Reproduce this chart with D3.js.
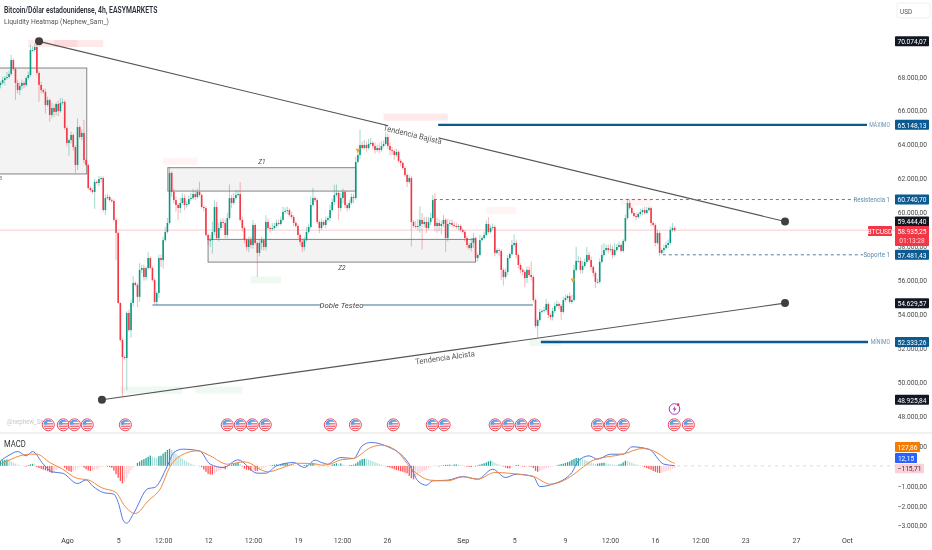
<!DOCTYPE html>
<html><head><meta charset="utf-8">
<script src="https://cdn.jsdelivr.net/npm/d3@7"></script>
<style>html,body{margin:0;padding:0;background:#fff}svg{display:block;font-family:Roboto,sans-serif;filter:blur(.3px)}</style>
</head><body><svg id="c" width="932" height="550"></svg>
<script>
// Prices in thousands of USD, one entry per 4h bar
const closes=[67.62,67.79,67.91,67.97,68.15,68.97,68.44,67.62,67.20,67.44,
67.62,67.50,67.91,68.09,69.56,69.56,69.74,68.21,67.50,67.20,
67.09,66.32,66.61,65.73,66.14,65.91,66.38,65.96,66.44,66.50,
64.96,64.08,64.25,64.55,63.84,62.78,65.02,64.43,64.67,63.07,
62.78,61.42,61.30,61.19,61.78,61.72,61.95,62.01,60.12,60.83,
60.89,60.71,60.65,59.54,58.77,54.64,52.45,51.45,51.39,54.05,
53.04,54.64,55.82,55.70,55.00,56.59,56.70,56.17,56.70,57.29,
56.70,55.99,54.70,55.23,57.29,57.17,58.35,58.83,59.36,62.31,
61.19,60.71,60.42,60.24,60.54,60.83,60.42,60.48,60.77,60.83,
61.07,60.89,61.19,61.01,60.30,60.24,58.65,58.35,58.35,58.83,
60.30,58.47,59.06,59.42,59.36,58.65,59.65,60.83,60.54,60.83,
61.01,61.07,59.54,59.06,58.35,57.94,58.35,58.06,59.24,58.18,
57.59,58.18,58.35,57.94,59.42,59.06,59.00,59.06,59.18,59.36,
59.30,59.54,60.01,60.07,60.12,59.83,59.71,59.36,59.18,58.65,
58.24,57.94,58.35,58.83,59.12,60.42,60.83,60.71,59.42,59.06,
59.42,59.24,59.54,59.65,60.12,60.60,61.01,61.13,60.24,60.83,
61.19,60.42,60.24,60.54,60.89,60.83,62.96,63.37,63.96,63.78,
63.96,63.78,64.02,64.08,63.90,63.66,63.78,63.66,63.90,64.02,
64.43,63.90,63.66,63.60,63.37,63.55,63.02,62.90,62.60,62.19,
61.78,62.01,59.42,59.18,59.12,59.18,59.54,59.30,59.42,59.06,
59.42,59.65,60.71,59.18,59.36,59.18,59.30,59.54,58.47,59.30,
59.36,59.24,59.18,59.12,59.18,58.94,58.83,58.47,58.06,57.88,
58.18,58.47,57.29,57.47,58.35,58.47,58.65,59.30,58.83,59.06,
59.12,57.59,57.76,57.71,56.59,56.17,56.47,57.29,57.53,58.06,
58.18,57.47,56.88,56.59,56.47,56.11,56.59,56.29,56.17,54.81,
53.28,53.63,54.11,54.17,54.22,54.58,53.93,53.81,54.17,54.46,
54.58,54.46,54.11,54.81,54.93,55.05,54.70,54.81,56.59,57.12,
57.12,56.59,56.82,57.06,57.47,57.17,56.76,56.41,55.88,55.88,
57.06,57.47,57.76,57.88,57.76,57.82,57.47,57.76,57.94,58.06,
57.71,58.30,59.65,60.54,60.24,59.95,59.77,59.71,59.89,60.01,
60.12,59.95,60.12,60.24,59.36,59.24,58.18,58.77,57.59,57.76,
57.88,58.06,58.18,58.94,59.06,58.935];
const wickUp=[.1,.2,.1,.3,.2,.3,.1,.1,.2,.2,.2,.1,.1,.2,.3,.2,.2,.18,.1,.2,
.1,.2,.2,.1,.3,.2,.1,.2,.3,.2,.1,.1,.1,.2,.1,.1,.5,.1,.2,.77,
.1,.1,.1,.1,.2,.1,.2,.1,.1,.2,.2,.1,.1,.1,.1,.05,.05,.1,.1,.1,
.2,.2,.4,.1,.1,.4,.2,.2,.1,.35,.1,.1,.1,.1,.2,.2,.2,.3,.3,.35,
.1,.2,.2,.1,.3,.3,.2,.2,.2,.3,.3,.2,.2,.6,.1,.1,.1,.1,.3,.6,
.4,.3,.3,.2,.2,.2,.3,.8,.2,.3,.3,.2,.7,.2,.1,.1,.2,.2,.3,.1,
.1,.2,.2,.1,.4,.2,.1,.3,.2,.2,.2,.2,.3,.2,.2,.1,.2,.1,.1,.1,
.1,.2,.2,.3,.2,.5,.6,.1,.1,.1,.2,.1,.2,.1,.3,.2,.6,.5,.1,.3,
.2,.1,.1,.2,.2,.2,.3,.3,.9,.2,.3,.2,.3,.3,.1,.2,.2,.3,.3,.2,
.3,.7,.2,.2,.1,.2,.1,.1,.1,.1,.1,.2,.1,.1,.3,.4,.8,.4,.3,.3,
.3,.3,.3,.4,.3,.2,.2,.3,.1,.3,.2,.2,.2,.2,.1,.1,.1,.1,.1,.1,
.3,.3,.1,.1,.3,.1,.2,.2,.4,.2,.2,.1,.1,.1,.1,.1,.2,.2,.1,.3,
.5,.2,.1,.1,.1,.1,.2,.2,.8,.1,.1,.1,.2,.1,.2,.3,.1,.1,.2,.2,
.2,.1,.1,.2,.2,.1,.2,.3,.3,.83,.3,.2,.3,.2,.47,.2,.2,.1,.1,.2,
.2,.6,.4,.2,.2,.3,.2,.4,.2,.2,.1,.1,.2,.2,.2,.1,.1,.2,.1,.2,
.1,.2,.2,.1,.1,.1,.1,.2,.1,.1,.2,.2,.2,.2,.3,.1];
const wickDown=[.2,.1,.3,.1,.1,.1,.1,1.0,.2,.3,.2,.2,.1,.1,.1,.1,.1,.1,1.0,.2,
.1,.5,.1,.4,.2,.3,.2,.3,.1,.1,.1,.2,.75,.2,.2,.5,.3,.1,.2,.2,
.1,.1,.1,.1,1.0,.1,.2,.2,.1,.3,.1,.1,.1,.1,1.6,.05,.1,2.36,.1,1.9,
.1,.45,.2,.1,.6,.3,.2,.2,.2,.1,.1,.1,.1,.2,.3,.4,.5,.1,.1,.1,
.3,.2,.4,.7,.3,.1,.3,.2,.1,.1,.1,.2,.1,.1,.1,.2,.1,.3,.4,.8,
.2,.1,.2,.1,.3,.2,.2,.1,.3,.1,.1,.1,.1,.2,.2,.2,.3,.2,.2,.1,
1.42,.2,.4,.2,.2,.1,.2,.1,.1,.1,.1,.1,.1,.1,.2,.1,.1,.2,.1,.2,
.2,.3,.2,.1,.1,.1,.1,.1,.1,.3,.1,.1,.2,.1,.2,.1,.2,.1,.7,.2,
.3,.2,.2,.1,.1,.3,.1,.1,.2,.1,.1,.2,.1,.1,.2,.2,.1,.2,.1,.1,
.1,.2,.3,.2,.3,.1,.1,.2,.1,.1,.3,.1,1.45,.1,.1,.2,.4,1.5,.2,.3,
.1,.2,.1,.3,.4,.3,.5,.2,.83,.2,.1,.1,.1,.1,.2,.1,.1,.2,.2,.1,
.2,.3,.24,.2,.1,.1,.1,.1,.1,.1,.1,.2,.1,.3,.6,.5,.1,.2,.1,.1,
.1,.2,.2,.2,.2,.55,.3,.1,.2,.1,.1,.7,.1,.1,.1,.1,.2,.2,.2,.1,
.1,.2,.47,.1,.1,.1,.1,.1,.1,.1,.1,.2,.2,.1,.1,.1,.2,.2,.35,.1,
.1,.1,.1,.1,.2,.1,.2,.1,.1,.1,.1,.1,.1,.1,.1,.1,.1,.2,.1,.1,
.2,.1,.1,.1,.2,.1,.2,.1,.2,.1,.2,.1,.2,.1,.1,.1];
const firstOpen=67.5;

// MACD histogram in USD, one per bar
const hist=[250,280,300,320,300,230,170,110,60,30,10,-20,-40,40,80,100,70,-60,-110,-150,
-190,-230,-270,-320,-360,-300,-200,-100,-60,-40,-90,-200,-260,-300,-270,-220,-120,-60,-40,-90,
-170,-230,-260,-240,-200,-170,-130,-60,-40,-30,-40,-60,-100,-240,-420,-600,-760,-880,-800,-620,
-400,-220,-90,-10,150,220,290,340,400,460,520,470,430,400,490,510,620,700,800,860,
800,700,620,520,440,360,280,210,150,100,60,30,10,-20,-60,-190,-300,-400,-440,-440,
-360,-310,-250,-200,-150,-170,-120,30,60,100,130,150,90,-30,-140,-190,-220,-250,-230,-250,
-260,-200,-160,-110,-60,-20,20,40,60,80,60,90,110,130,130,100,60,50,30,20,
-20,10,40,60,40,90,150,130,20,-20,-10,-20,-10,-30,-20,60,100,130,110,120,
60,40,30,30,40,60,120,200,280,340,360,350,310,270,230,180,140,100,60,30,
-20,-60,-90,-130,-170,-210,-240,-270,-300,-340,-380,-500,-620,-680,-560,-470,-380,-300,-240,-180,
-120,-70,-30,10,-10,-30,20,30,50,50,60,50,70,70,60,40,30,-20,-40,-50,
-60,-30,-40,30,60,100,130,170,230,260,220,160,110,60,30,-30,-90,-130,-130,-60,
-10,40,50,-10,-30,-40,-20,-30,-40,-110,-250,-300,-260,-210,-160,-120,-90,-60,-30,-10,
30,60,90,110,150,190,220,300,350,400,400,370,330,290,250,210,170,130,100,110,
130,150,160,130,110,80,70,60,50,70,110,180,260,250,200,160,110,70,50,20,
-20,-60,-110,-160,-200,-260,-300,-340,-360,-340,-300,-280,-240,-190,-150,-115.71];

// MACD and signal lines, read at the bars listed
const macdBars=[0,4,8,12,15,20,24,29,36,40,43,48,53,55,57.5,59,62,69,72,78,81,85,93,98,104,111,120,124,129,137,142,147,150,153,156,159,165,169,173,180,191,195,199,202,209,216,223,230,236,241,249,252,258,267,270,275,279,285,291,295,303,310,315];
const macdVals=[252,538,722,504,722,84,-302,-370,-890,-706,-1008,-1344,-1428,-1848,-2772,-2890,-2436,-1142,-1092,0,672,840,756,84,-84,302,-370,-370,0,168,-84,286,168,84,286,420,370,1008,1176,1008,84,-756,-974,-756,-722,-538,-672,-168,-588,-420,-538,-1042,-924,-336,252,504,336,588,588,958,840,84,12.15];
const signalBars=[0,5,9,14,17,23,29,36,41,47,54,58,63,69,75,79,84,92,98,106,114,125,132,139,148,150,154,159,165,173,178,185,193,201,209,216,223,231,243,249,257,265,271,277,291,300,305,314,315];
const signalVals=[84,336,504,588,588,168,-168,-638,-706,-1092,-1344,-2016,-2402,-1764,-1092,-84,504,756,504,84,202,-302,-84,134,84,34,84,302,370,924,1042,756,-252,-722,-756,-554,-672,-336,-437,-538,-924,-638,-168,286,588,874,756,168,127.86];

const priceTicks=[68,66,64,62,60,58,56,54,52,50,48];
const macdTicks=[1000,-1000,-2000,-3000];
const timeTickBars=[31.1,55,76,97,118,139,159.6,180.6,216,240,263.8,284.8,305.8,327,348,371.7,395.5];
const timeTickLabels=["Ago","5","12:00","12","12:00","19","12:00","26","Sep","5","9","12:00","16","12:00","23","27","Oct"];
const eventBars=[22.2,29.2,34.4,40.4,58.2,105.8,111.9,117.5,123.6,154,165.7,183.4,201.6,207.2,231,237,243.2,249.3,278.8,284.8,290.9,314.7,321.3];

// Zones: first bar, last bar, top price, bottom price
const zoneStart=[-3,78.2,97];
const zoneEnd=[40.3,166,222];
const zoneTop=[68.5,62.62,58.39];
const zoneBottom=[62.25,61.24,57.05];
// Liquidity heat patches
const heatStart=[13,25,76,110,179,227,290,117,56,70,91,247];
const heatEnd=[48,36,92,119,209,241,304,131,85,85,113,262];
const heatPrice=[69.95,69.95,63.0,62.2,65.6,60.1,60.6,56.0,49.5,49.5,49.5,52.3];
const heatKind=["p","pd","f","f","p","f","f","g","g","g","g","g"];

const fmt=d3.formatLocale({decimal:",",thousands:".",grouping:[3],currency:["",""],minus:"\u2212"}).format(",.2f");

const svg=d3.select("#c");
const x=d3.scaleLinear().domain([0,315]).range([0.5,674.6]);
const y=d3.scaleLinear().domain([48,68]).range([415.5,76.5]);
const m=d3.scaleLinear().domain([-3000,1000]).range([525.4,446]);
const GREEN="#089981",RED="#f23645",BLUE="#0b5a92";
const xEnd=895;
const condense=(sel,f)=>sel.each(function(){this.setAttribute("textLength",this.getComputedTextLength()*f);this.setAttribute("lengthAdjust","spacingAndGlyphs");});

svg.append("defs").append("clipPath").attr("id","pane").append("rect").attr("x",0).attr("y",0).attr("width",xEnd).attr("height",433);
const g=svg.append("g").attr("clip-path","url(#pane)");

// heat patches
const heatColors={p:"#fee9eb",pd:"#fcdadd",f:"#fff3f4",g:"#eff8f1"};
g.selectAll("rect.h").data(heatStart).join("rect").attr("class","h")
 .attr("x",(d)=>x(d)).attr("width",(d,i)=>x(heatEnd[i])-x(d))
 .attr("y",(d,i)=>y(heatPrice[i])-3.5).attr("height",7)
 .attr("fill",(d,i)=>heatColors[heatKind[i]]);

// zones
g.selectAll("rect.z").data(zoneStart).join("rect").attr("class","z")
 .attr("x",d=>x(d)).attr("width",(d,i)=>x(zoneEnd[i])-x(d))
 .attr("y",(d,i)=>y(zoneTop[i])).attr("height",(d,i)=>y(zoneBottom[i])-y(zoneTop[i]))
 .attr("fill","#f3f3f3").attr("stroke","#858585").attr("stroke-width",1);

// last price line
g.append("line").attr("x1",0).attr("x2",xEnd).attr("y1",y(58.935)).attr("y2",y(58.935)).attr("stroke","#f9c4ca").attr("stroke-width",.9);

// candles
const opens=closes.map((c,i)=>i?closes[i-1]:firstOpen);
const col=i=>closes[i]>=opens[i]?GREEN:RED;
g.selectAll("line.w").data(closes).join("line").attr("class","w")
 .attr("x1",(d,i)=>x(i)).attr("x2",(d,i)=>x(i))
 .attr("y1",(d,i)=>y(Math.max(d,opens[i])+wickUp[i]))
 .attr("y2",(d,i)=>y(Math.min(d,opens[i])-wickDown[i]))
 .attr("stroke",(d,i)=>col(i)).attr("stroke-opacity",.42).attr("stroke-width",.9);
g.selectAll("rect.b").data(closes).join("rect").attr("class","b")
 .attr("x",(d,i)=>x(i)-.8).attr("width",1.6)
 .attr("y",(d,i)=>y(Math.max(d,opens[i])))
 .attr("height",(d,i)=>Math.max(.8,Math.abs(y(d)-y(opens[i]))))
 .attr("fill",(d,i)=>col(i));

// orange markers
g.selectAll("path.mk").data([167,267.5]).join("path").attr("class","mk")
 .attr("d",d3.symbol(d3.symbolTriangle,10)).attr("fill","#f5a623")
 .attr("transform",(d,i)=>`translate(${x(d)},${y([63.65,56][i])}) rotate(180)`);

// trend lines
const trendBars=[[18,366.6],[47.4,366.6]],trendPrices=[[70.074,59.444],[48.926,54.63]];
trendBars.forEach((b,i)=>{
 g.append("line").attr("x1",x(b[0])).attr("x2",x(b[1])).attr("y1",y(trendPrices[i][0])).attr("y2",y(trendPrices[i][1])).attr("stroke","#555").attr("stroke-width",1.1);
 g.selectAll(null).data(b).join("circle").attr("cx",d=>x(d)).attr("cy",(d,k)=>y(trendPrices[i][k])).attr("r",4).attr("fill","#3f3f3f");
});
const rotLabel=(t,cx,cy,a,bg)=>{
 const s=g.append("g").attr("transform",`translate(${cx},${cy}) rotate(${a})`);
 if(bg)s.append("rect").attr("x",-26).attr("y",-5).attr("width",52).attr("height",10).attr("fill","#fff");
 s.append("text").attr("text-anchor","middle").attr("dy",".35em").attr("font-size",8).attr("fill","#555").text(t).call(condense,.95);
};
rotLabel("Tendencia Bajista",412.5,134.5,13.5,true);
rotLabel("Tendencia Alcista",445,357.5,-8,false);

// level lines
const thick=[[204.5,65.148,867],[252.5,52.333,868]];
thick.forEach(t=>g.append("line").attr("x1",x(t[0])).attr("x2",t[2]).attr("y1",y(t[1])).attr("y2",y(t[1])).attr("stroke",BLUE).attr("stroke-width",2.4));
[[202.5,60.7407,855],[309.5,57.4814,863]].forEach(t=>g.append("line").attr("x1",x(t[0])).attr("x2",t[2]).attr("y1",y(t[1])).attr("y2",y(t[1])).attr("stroke","#3d7396").attr("stroke-width",.9).attr("stroke-dasharray","3 3"));
g.append("line").attr("x1",x(71)).attr("x2",x(248.8)).attr("y1",y(54.52)).attr("y2",y(54.52)).attr("stroke","#3f7394").attr("stroke-width",1);
g.append("rect").attr("x",321).attr("y",y(54.52)-5).attr("width",42).attr("height",10).attr("fill","#fff");
const small=(t,xx,yy,anchor,fill,fs,f)=>svg.append("text").attr("x",xx).attr("y",yy).attr("dy",".35em").attr("text-anchor",anchor).attr("font-size",fs).attr("fill",fill).text(t).call(condense,f||.9);
small("Doble Testeo",341.5,y(54.52),"middle","#444",8,.95).attr("font-style","italic");
small("Z1",262,161.5,"middle","#444",7,.9).attr("font-style","italic");
small("Z2",342,268,"middle","#444",7,.9).attr("font-style","italic");
small("Z3",2,178,"end","#666",6,.9);
small("M\u00c1XIMO",890,y(65.148),"end","#6a93b0",6.5,.8);
small("M\u00cdNIMO",890,y(52.333),"end","#6a93b0",6.5,.8);
small("Resistencia 1",890,y(60.7407),"end","#5c8aa8",7.5,.82);
small("Soporte 1",890,y(57.4814),"end","#5c8aa8",7.5,.82);

// watermark
small("@nephew_Sam_",7,421.5,"start","#c9c9c9",7.5,.82);

// event icons
const ev=svg.append("defs");
ev.append("clipPath").attr("id","flag").append("circle").attr("r",5);
const icons=svg.selectAll("g.e").data(eventBars).join("g").attr("class","e").attr("transform",d=>`translate(${x(d)+.3},424.8)`);
icons.append("circle").attr("r",6).attr("fill","#fff").attr("stroke","#ef4655").attr("stroke-width",1);
const inner=icons.append("g").attr("clip-path","url(#flag)");
inner.append("rect").attr("x",-5).attr("y",-5).attr("width",10).attr("height",5).attr("fill","#5f9ee6");
inner.append("rect").attr("x",-1).attr("y",-3).attr("width",6).attr("height",1.2).attr("fill","#fff");
inner.append("rect").attr("x",-1).attr("y",-1).attr("width",6).attr("height",1.2).attr("fill","#f7b9bd");
inner.append("rect").attr("x",-5).attr("y",.8).attr("width",10).attr("height",1.3).attr("fill","#f0656f");
inner.append("rect").attr("x",-5).attr("y",3).attr("width",10).attr("height",1.3).attr("fill","#f0656f");
// flash icon
const fl=svg.append("g").attr("transform","translate(674.5,409)");
fl.append("circle").attr("r",5.3).attr("fill","#fff").attr("stroke","#9c27b0").attr("stroke-width",.9);
fl.append("path").attr("d","M1,-3.4L-1.8,.5H0L-1,3.4L1.9,-.6H0Z").attr("fill","#9c27b0");
fl.append("circle").attr("cx",3.6).attr("cy",-4.3).attr("r",1.4).attr("fill","#f23645");

// separator
svg.append("line").attr("x1",0).attr("x2",932).attr("y1",433).attr("y2",433).attr("stroke","#e4e4e4");

// MACD pane
const histColor=(v,i)=>{const p=i?hist[i-1]:v;return v>=0?(v>=p?"#26a69a":"#b2dfdb"):(v<=p?"#ff5252":"#ffcdd2");};
svg.selectAll("rect.mh").data(hist).join("rect").attr("class","mh")
 .attr("x",(d,i)=>x(i)-.65).attr("width",1.3)
 .attr("y",d=>Math.min(m(d),m(0))).attr("height",d=>Math.abs(m(d)-m(0)))
 .attr("fill",histColor);
const curve=(bars,vals)=>d3.line().x((d,i)=>x(bars[i])).y(d=>m(d)).curve(d3.curveMonotoneX)(vals);
svg.append("path").attr("d",curve(macdBars,macdVals)).attr("fill","none").attr("stroke","#4f78e8").attr("stroke-width",1);
svg.append("path").attr("d",curve(signalBars,signalVals)).attr("fill","none").attr("stroke","#f0883e").attr("stroke-width",1);
svg.append("line").attr("x1",677).attr("x2",xEnd).attr("y1",m(0)).attr("y2",m(0)).attr("stroke","#cfcfcf").attr("stroke-width",.8).attr("stroke-dasharray","3 4");
small("MACD",4,444.5,"start","#333",8.5,.9);

// axes
const yAxis=svg.append("g").attr("transform","translate(927,0)").call(d3.axisRight(y).tickValues(priceTicks).tickSize(0).tickPadding(0).tickFormat(d=>fmt(d*1000)));
const mAxis=svg.append("g").attr("transform","translate(927,0)").call(d3.axisRight(m).tickValues(macdTicks).tickSize(0).tickPadding(0).tickFormat(fmt));
const tAxis=svg.append("g").attr("transform","translate(0,537.5)").call(d3.axisBottom(x).tickValues(timeTickBars).tickSize(0).tickPadding(0).tickFormat((d,i)=>timeTickLabels[i]));
[yAxis,mAxis,tAxis].forEach(a=>{a.select(".domain").remove();a.selectAll("text").attr("font-family","Roboto,sans-serif").attr("font-size",8).attr("fill","#4a4a4a");});
[yAxis,mAxis].forEach(a=>a.selectAll("text").attr("text-anchor","end").call(condense,.83));
tAxis.selectAll("text").call(condense,.88).filter((d,i)=>isNaN(timeTickLabels[i][0])).attr("fill","#333");

// axis badges
const badge=(x0,w,cy,h,fill,t,tc)=>{
 svg.append("rect").attr("x",x0).attr("y",cy-h/2).attr("width",w).attr("height",h).attr("fill",fill).attr("rx",.8);
 svg.append("text").attr("x",x0+w/2).attr("y",cy).attr("dy",".35em").attr("text-anchor","middle").attr("font-size",8).attr("fill",tc||"#fff").text(t).call(condense,.83);
};
const priceBadges=[[70074.07,"#131722"],[59444.40,"#131722"],[54629.57,"#131722"],[48925.84,"#131722"],[65148.13,BLUE],[60740.70,BLUE],[57481.43,BLUE],[52333.26,BLUE]];
priceBadges.forEach(b=>badge(895,34,y(b[0]/1000),10,b[1],fmt(b[0])));
svg.append("rect").attr("x",895).attr("y",226).attr("width",34).attr("height",20).attr("fill",RED).attr("rx",.8);
small("58.935,25",912,231,"middle","#fff",8,.83);
small("01:13:28",912,240.5,"middle","#ffd7da",8,.83);
badge(868,24,231,10,RED,"BTCUSD");
badge(895,25,447,10,"#f57c00",fmt(127.86));
badge(895,22,458,10,"#2962ff",fmt(12.15));
badge(895,29,468.5,9.5,"#fbd0d8",fmt(-115.71),"#333");

// header
small("Bitcoin/D\u00f3lar estadounidense, 4h, EASYMARKETS",4,10,"start","#2a2e39",8.5,.815).attr("font-weight",600);
small("Liquidity Heatmap (Nephew_Sam_)",4,21,"start","#555",8,.84);
svg.append("rect").attr("x",897).attr("y",3).attr("width",33).attr("height",15).attr("rx",2).attr("fill","#fff").attr("stroke","#efefef");
small("USD",900,11,"start","#555",7.5,.85);
</script></body></html>
